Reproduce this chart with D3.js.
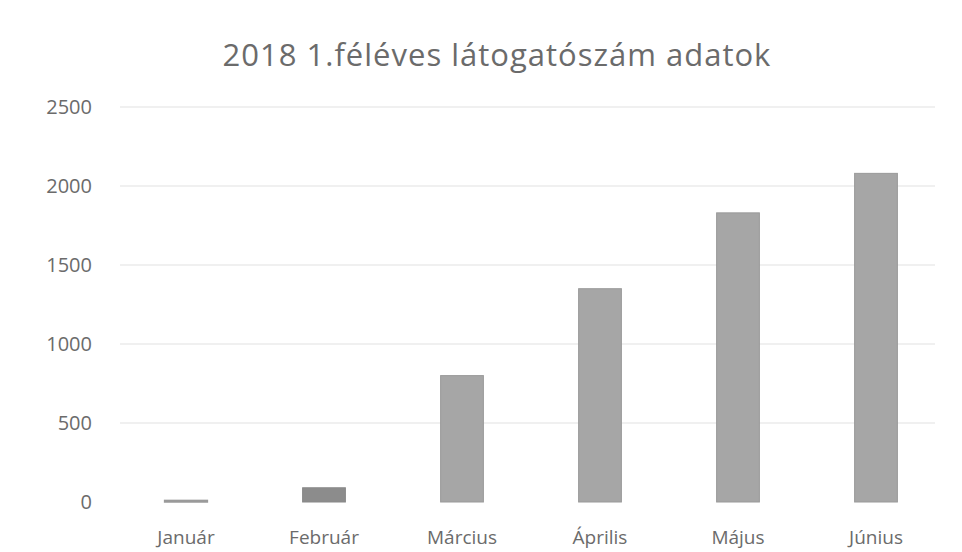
<!DOCTYPE html>
<html>
<head>
<meta charset="utf-8">
<script src="https://cdn.jsdelivr.net/npm/d3@7"></script>
<style>
  body { margin: 0; background: #fff; }
  svg { display: block; }
</style>
</head>
<body>
<div id="chart"></div>
<script>
// Monthly visitor counts, first half of 2018.
const months = ["Január", "Február", "Március", "Április", "Május", "Június"];
const visitors = [10, 90, 800, 1350, 1830, 2080];
const yTicks = [0, 500, 1000, 1500, 2000, 2500];

const W = 962, H = 552;
const margin = { top: 107, right: 17, bottom: 50, left: 117 };
const FONT = "'Open Sans', 'Noto Sans', sans-serif";

const svg = d3.select("#chart").append("svg")
  .attr("width", W)
  .attr("height", H)
  .attr("font-family", FONT);

const x = d3.scaleBand()
  .domain(months)
  .range([margin.left, W - margin.right])
  .paddingInner(0.69)
  .paddingOuter(0.345);

const y = d3.scaleLinear()
  .domain([0, 2500])
  .range([H - margin.bottom, margin.top]);

// Title
svg.append("text")
  .attr("x", 497)
  .attr("y", 66)
  .attr("text-anchor", "middle")
  .attr("font-size", 31)
  .attr("letter-spacing", 1)
  .attr("fill", "#6b6b6b")
  .text("2018 1.féléves látogatószám adatok");

// Gridlines
svg.append("g")
  .selectAll("line")
  .data(yTicks.filter((d) => d > 0))
  .join("line")
    .attr("x1", 120)
    .attr("x2", 935)
    .attr("y1", (d) => y(d))
    .attr("y2", (d) => y(d))
    .attr("stroke", "#ebebeb")
    .attr("stroke-width", 1.5);

// Y axis labels (no line / ticks)
const yAxis = svg.append("g")
  .attr("transform", `translate(92,0)`)
  .call(d3.axisLeft(y).tickValues(yTicks).tickFormat(d3.format("d")).tickSize(0).tickPadding(0));
yAxis.select(".domain").remove();
yAxis.selectAll("text")
  .attr("font-family", FONT)
  .attr("font-size", 20)
  .attr("fill", "#6b6b6b");

// Bars
svg.append("g")
  .selectAll("rect")
  .data(months)
  .join("rect")
    .attr("x", (d) => x(d))
    .attr("y", (d, i) => y(visitors[i]))
    .attr("width", x.bandwidth())
    .attr("height", (d, i) => y(0) - y(visitors[i]))
    .attr("fill", (d, i) => (i === 1 ? "#8c8c8c" : "#a6a6a6"))
    .attr("stroke", (d, i) => (i === 1 ? "#888" : "#9a9a9a"))
    .attr("stroke-width", (d, i) => (i === 0 ? 1.5 : 1));

// X axis labels (sit close to the bottom edge, as in the original)
const xAxis = svg.append("g")
  .attr("transform", `translate(0,${H - 8})`)
  .call(d3.axisBottom(x).tickSize(0).tickPadding(0));
xAxis.select(".domain").remove();
xAxis.selectAll("text")
  .attr("y", 0)
  .attr("dy", 0)
  .attr("font-family", FONT)
  .attr("font-size", 19)
  .attr("fill", "#6b6b6b");
</script>
</body>
</html>
